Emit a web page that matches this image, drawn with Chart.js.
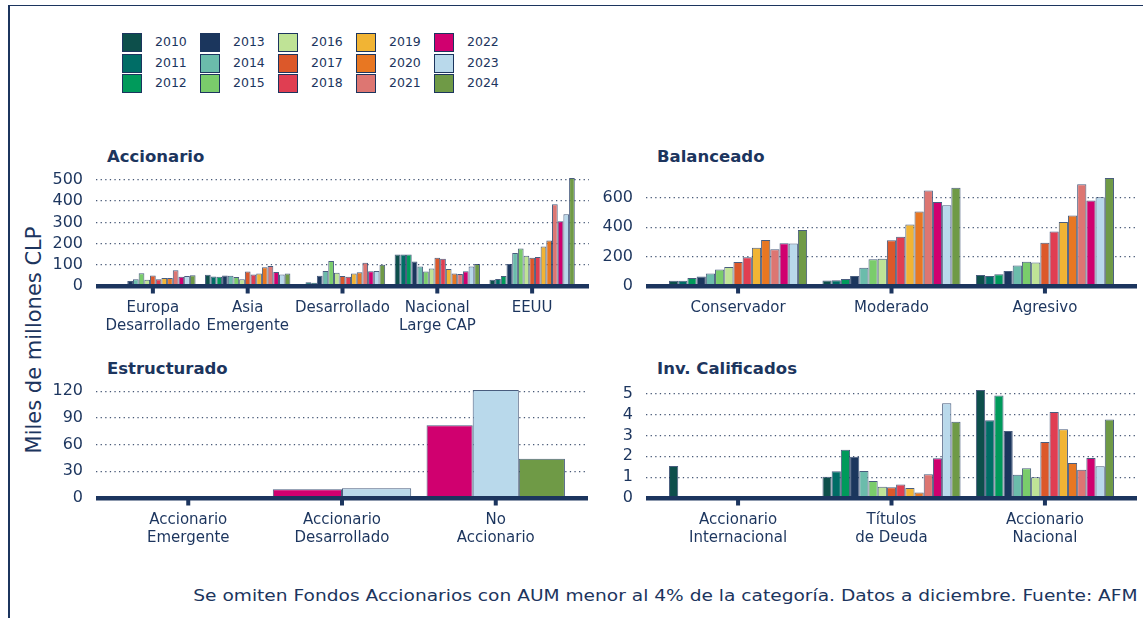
<!DOCTYPE html>
<html>
<head>
<meta charset="utf-8">
<script src="https://cdn.jsdelivr.net/npm/chart.js@4.4.1/dist/chart.umd.min.js"></script>
<style>
  body { margin: 0; background: #fff; font-family: "DejaVu Sans", sans-serif; color: #1c355e; }
  #page { position: relative; width: 1143px; height: 618px; overflow: hidden; background: #fff; }
  #frame { position: absolute; left: 8px; top: 5px; width: 1200px; height: 700px;
           border-top: 1.5px solid #1c355e; border-left: 2px solid #1c355e; }
  .panel { position: absolute; }
  .title { position: absolute; font-weight: bold; font-size: 16.5px; line-height: 18px; white-space: nowrap; }
  #ytitle { position: absolute; left: 34px; top: 340px; font-size: 21px; white-space: nowrap;
            transform: translate(-50%, -50%) rotate(-90deg); }
  #caption { position: absolute; right: 5px; top: 587px; font-size: 15px; line-height: 18px; white-space: nowrap;
             transform: scaleX(1.24); transform-origin: right center; }
  .key { position: absolute; width: 18px; height: 17px; border: 1px solid #1c355e; }
  .klab { position: absolute; font-size: 12.5px; line-height: 14px; white-space: nowrap; }
</style>
</head>
<body>
<div id="page">
  <div id="frame"></div>
  <div id="legend"></div>
  <div class="title" style="left:107px;top:148px">Accionario</div>
  <div class="title" style="left:657px;top:148px">Balanceado</div>
  <div class="title" style="left:107px;top:360px">Estructurado</div>
  <div class="title" style="left:657px;top:360px">Inv. Calificados</div>
  <div id="ytitle">Miles de millones CLP</div>
  <div id="caption">Se omiten Fondos Accionarios con AUM menor al 4% de la categoría. Datos a diciembre. Fuente: AFM</div>
  <div class="panel" style="left:20px;top:150px"><canvas id="accionario" width="569" height="196"></canvas></div>
  <div class="panel" style="left:570px;top:150px"><canvas id="balanceado" width="567" height="196"></canvas></div>
  <div class="panel" style="left:20px;top:362px"><canvas id="estructurado" width="568" height="196"></canvas></div>
  <div class="panel" style="left:570px;top:362px"><canvas id="calificados" width="567" height="196"></canvas></div>
</div>
<script>
const years = ["2010", "2011", "2012", "2013", "2014", "2015", "2016", "2017",
               "2018", "2019", "2020", "2021", "2022", "2023", "2024"];
const yearColors = ["#0d4f4b", "#006d66", "#009a5b", "#1b365d", "#6bbcab", "#7acc6b", "#bfe396", "#dc582a",
                    "#e03e52", "#f1b434", "#e87722", "#dd7672", "#d0006f", "#b9d9eb", "#6f9a46"];

// Accionario (one row per category, values by year 2010..2024)
const accionarioCats = [["Europa", "Desarrollado"], ["Asia", "Emergente"], ["Desarrollado"], ["Nacional", "Large CAP"], ["EEUU"]];
const europaDesarrollado = [0, 0, 0, 23, 32, 60, 29, 50, 32, 38, 38, 74, 44, 47, 51];
const asiaEmergente = [53, 45, 44, 50, 48, 42, 32, 68, 54, 59, 88, 94, 66, 54, 59];
const desarrollado = [9, 18, 15, 48, 71, 118, 62, 47, 44, 59, 65, 109, 69, 71, 100];
const nacionalLargeCap = [149, 149, 149, 115, 92, 68, 83, 133, 128, 80, 59, 56, 69, 92, 104];
const eeuu = [29, 33, 47, 104, 155, 177, 142, 133, 137, 186, 214, 385, 305, 338, 509];
const accionarioTicks = [0, 100, 200, 300, 400, 500];

// Balanceado
const balanceadoCats = [["Conservador"], ["Moderado"], ["Agresivo"]];
const conservador = [36, 36, 54, 64, 86, 113, 130, 163, 196, 261, 314, 250, 292, 290, 381];
const moderado = [38, 40, 47, 69, 124, 183, 185, 312, 336, 419, 508, 650, 572, 550, 670];
const agresivo = [75, 69, 80, 102, 139, 165, 161, 294, 371, 437, 480, 694, 583, 604, 736];
const balanceadoTicks = [0, 200, 400, 600];

// Estructurado
const estructuradoCats = [["Accionario", "Emergente"], ["Accionario", "Desarrollado"], ["No", "Accionario"]];
const estAccEmergente = [null, null, null, null, null, null, null, null, null, null, null, null, null, null, null];
const estAccDesarrollado = [null, null, null, null, null, null, null, null, null, null, null, null, 9.8, 10.9, null];
const estNoAccionario = [null, null, null, null, null, null, null, null, null, null, null, null, 81.8, 121.4, 44.0];
const estructuradoTicks = [0, 30, 60, 90, 120];

// Inv. Calificados
const calificadosCats = [["Accionario", "Internacional"], ["Títulos", "de Deuda"], ["Accionario", "Nacional"]];
const calAccInternacional = [1.54, 0.03, 0, 0, 0, 0, 0, 0, 0.04, 0.04, 0, 0, 0, 0, 0];
const calTitulosDeuda = [1.02, 1.28, 2.32, 1.98, 1.29, 0.82, 0.54, 0.51, 0.65, 0.48, 0.26, 1.14, 1.91, 4.55, 3.66];
const calAccNacional = [5.18, 3.73, 4.92, 3.21, 1.12, 1.43, 1.0, 2.69, 4.13, 3.3, 1.68, 1.35, 1.92, 1.52, 3.76];
const calificadosTicks = [0, 1, 2, 3, 4, 5];

const navy = "#1c355e";
const font = "'DejaVu Sans', sans-serif";

// legend
const legend = document.getElementById("legend");
years.forEach((yr, i) => {
  const col = Math.floor(i / 3), row = i % 3;
  const key = document.createElement("div");
  key.className = "key";
  key.style.left = (122 + col * 78) + "px";
  key.style.top = (33 + row * 20.5) + "px";
  key.style.background = yearColors[i];
  legend.appendChild(key);
  const lab = document.createElement("div");
  lab.className = "klab";
  lab.textContent = yr;
  lab.style.left = (155 + col * 78) + "px";
  lab.style.top = (35 + row * 20.5) + "px";
  legend.appendChild(lab);
});

const baseAxis = {
  id: "baseAxis",
  afterDatasetsDraw(chart) {
    const { ctx, chartArea, scales: { x, y } } = chart;
    const y0 = y.getPixelForValue(0);
    ctx.save();
    ctx.fillStyle = navy;
    ctx.fillRect(chartArea.left, y0 - 2, chartArea.right - chartArea.left, 4.5);
    x.ticks.forEach((t) => {
      const px = x.getPixelForValue(t.value);
      ctx.fillRect(px - 2, y0, 4, 7.5);
    });
    ctx.restore();
  },
};

function makePanel(id, cats, rows, yTicks) {
  const datasets = years.map((yr, j) => ({
    label: yr,
    data: rows.map((r, i) => ({ x: i, y: r[j] })),
    backgroundColor: yearColors[j],
    borderColor: "rgba(28,53,94,0.8)",
    borderWidth: 1,
    borderSkipped: false,
    categoryPercentage: 0.9,
    barPercentage: 1.0,
  }));
  const all = rows.flat().filter((v) => v !== null);
  const yMax = Math.max(...all) * 1.05;
  const n = cats.length;

  return new Chart(document.getElementById(id), {
    type: "bar",
    data: { datasets },
    options: {
      responsive: false,
      animation: false,
      skipNull: true,
      layout: { padding: { top: 18, right: 0, left: 0, bottom: 0 } },
      plugins: { legend: { display: false }, tooltip: { enabled: false } },
      scales: {
        x: {
          type: "linear",
          offset: false,
          min: -0.6,
          max: n - 1 + 0.6,
          grid: { display: false, drawTicks: false, offset: false },
          border: { display: false },
          afterBuildTicks: (axis) => { axis.ticks = cats.map((c, i) => ({ value: i })); },
          afterFit: (axis) => { axis.height = 60; },
          ticks: {
            autoSkip: false,
            maxRotation: 0,
            includeBounds: false,
            padding: 13,
            color: navy,
            font: { family: font, size: 15, lineHeight: 1.2 },
            callback: (v) => cats[v],
          },
        },
        y: {
          min: 0,
          max: yMax,
          afterBuildTicks: (axis) => { axis.ticks = yTicks.map((v) => ({ value: v })); },
          afterFit: (axis) => { axis.width = 76; },
          grid: { color: "rgba(40,60,95,0.85)", lineWidth: 1.3, drawTicks: false },
          border: { display: false, dash: [1.3, 3.3] },
          ticks: {
            padding: 13,
            color: navy,
            font: { family: font, size: 16 },
          },
        },
      },
    },
    plugins: [baseAxis],
  });
}

makePanel("accionario", accionarioCats, [europaDesarrollado, asiaEmergente, desarrollado, nacionalLargeCap, eeuu], accionarioTicks);
makePanel("balanceado", balanceadoCats, [conservador, moderado, agresivo], balanceadoTicks);
makePanel("estructurado", estructuradoCats, [estAccEmergente, estAccDesarrollado, estNoAccionario], estructuradoTicks);
makePanel("calificados", calificadosCats, [calAccInternacional, calTitulosDeuda, calAccNacional], calificadosTicks);
</script>
</body>
</html>
